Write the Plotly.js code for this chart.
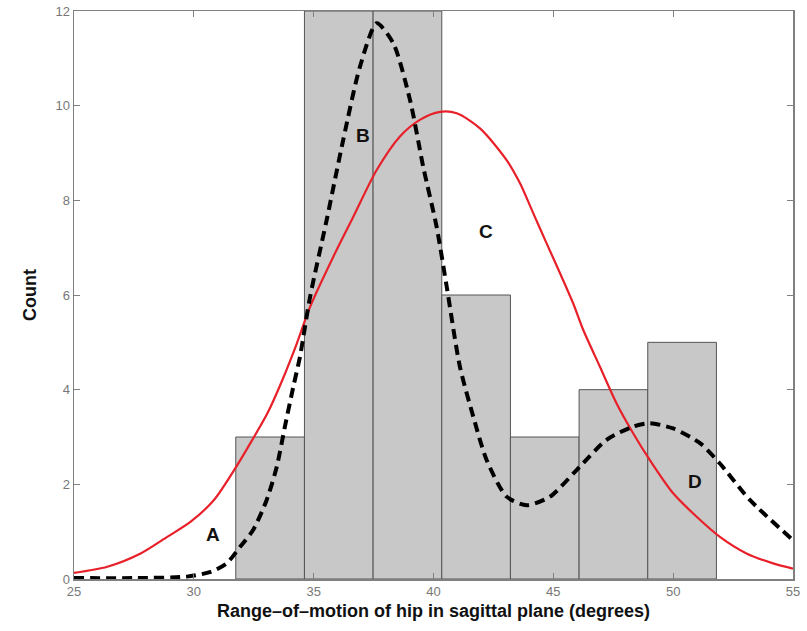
<!DOCTYPE html>
<html>
<head>
<meta charset="utf-8">
<script src="https://cdn.plot.ly/plotly-3.0.1.min.js"></script>
<style>html,body{margin:0;padding:0;background:#fff;}#chart{width:807px;height:631px;}</style>
</head>
<body>
<div id="chart"></div>
<script>
// Histogram bins (left edges) and counts
var binLeft = [31.75, 34.615, 37.48, 40.345, 43.21, 46.075, 48.94];
var binWidth = 2.865;
var counts = [3, 12, 12, 6, 3, 4, 5];

// Single normal fit (red solid curve)
var redX = [25, 26.39, 27.78, 28.89, 29.87, 30.84, 31.68, 32.44, 33.07, 33.69, 34.30, 34.85, 35.82, 36.65, 37.63, 38.60, 39.43, 40.27, 40.97, 41.94, 43.05, 43.61, 44.16, 44.72, 45.28, 45.83, 46.25, 46.94, 47.64, 48.33, 49.03, 50.0, 50.97, 51.95, 53.06, 54.17, 55];
var redY = [0.13, 0.26, 0.54, 0.89, 1.21, 1.67, 2.30, 2.94, 3.50, 4.20, 4.98, 5.75, 6.81, 7.65, 8.64, 9.35, 9.70, 9.87, 9.84, 9.52, 8.85, 8.36, 7.73, 7.09, 6.46, 5.82, 5.26, 4.49, 3.71, 3.08, 2.51, 1.81, 1.32, 0.89, 0.54, 0.33, 0.22];

// Mixture fit (black dashed curve)
var blackX = [25, 27.5, 29.7, 30.7, 31.37, 31.93, 32.48, 33.04, 33.46, 33.80, 34.15, 34.43, 34.85, 35.54, 36.23, 36.93, 37.63, 38.32, 39.02, 39.57, 40.13, 40.55, 41.10, 41.66, 42.22, 43.05, 43.89, 44.86, 45.97, 47.22, 48.33, 49.03, 50.0, 51.12, 51.95, 53.2, 55];
var blackY = [0.02, 0.02, 0.05, 0.15, 0.33, 0.68, 1.04, 1.67, 2.37, 3.22, 4.06, 4.70, 5.96, 7.58, 9.27, 10.82, 11.74, 11.32, 10.12, 8.71, 7.44, 6.18, 4.49, 3.43, 2.51, 1.74, 1.56, 1.74, 2.30, 2.94, 3.22, 3.29, 3.18, 2.87, 2.44, 1.67, 0.82];

// Region labels
var labelText = ['A', 'B', 'C', 'D'];
var labelX = [30.8, 37.06, 42.19, 50.91];
var labelY = [0.93, 9.38, 7.35, 2.05];

var xTicks = [25, 30, 35, 40, 45, 50, 55];
var yTicks = [0, 2, 4, 6, 8, 10, 12];

var binCenters = binLeft.map(function (l) { return l + binWidth / 2; });

var traces = [
  {
    type: 'bar', x: binCenters, y: counts, width: binWidth,
    marker: { color: '#c8c8c8', line: { color: '#555555', width: 1 } },
    hoverinfo: 'skip'
  },
  {
    type: 'scatter', mode: 'lines', x: redX, y: redY,
    line: { color: '#e8202a', width: 2.2, shape: 'spline', smoothing: 0.8 }
  },
  {
    type: 'scatter', mode: 'lines', x: blackX, y: blackY,
    line: { color: '#000000', width: 4, dash: '10px,6px', shape: 'spline', smoothing: 0.7 }
  }
];

var annotations = labelText.map(function (t, i) {
  return {
    x: labelX[i], y: labelY[i], xref: 'x', yref: 'y', text: '<b>' + t + '</b>',
    showarrow: false, font: { family: 'Liberation Sans, Arial, sans-serif', size: 19, color: '#111' }
  };
});

var layout = {
  width: 807, height: 631,
  margin: { l: 74, r: 14, t: 11, b: 52 },
  paper_bgcolor: '#ffffff', plot_bgcolor: '#ffffff',
  showlegend: false,
  bargap: 0,
  xaxis: {
    range: [25, 55], tickvals: xTicks, ticktext: xTicks.map(String),
    showgrid: false, zeroline: false, showline: true, mirror: 'ticks',
    linecolor: '#808080', linewidth: 1.5, ticks: 'inside', ticklen: 6, tickcolor: '#808080',
    tickfont: { family: 'Liberation Sans, Arial, sans-serif', size: 13, color: '#777' },
    title: { text: '<b>Range–of–motion of hip in sagittal plane (degrees)</b>', standoff: 6,
      font: { family: 'Liberation Sans, Arial, sans-serif', size: 18, color: '#111' } }
  },
  yaxis: {
    range: [0, 12], tickvals: yTicks, ticktext: yTicks.map(String),
    showgrid: false, zeroline: false, showline: true, mirror: 'ticks',
    linecolor: '#808080', linewidth: 1.5, ticks: 'inside', ticklen: 6, tickcolor: '#808080',
    tickfont: { family: 'Liberation Sans, Arial, sans-serif', size: 13, color: '#777' },
    title: { text: '<b>Count</b>', standoff: 14,
      font: { family: 'Liberation Sans, Arial, sans-serif', size: 18, color: '#111' } }
  },
  annotations: annotations
};

Plotly.newPlot('chart', traces, layout, { staticPlot: true, displayModeBar: false });
</script>
</body>
</html>
